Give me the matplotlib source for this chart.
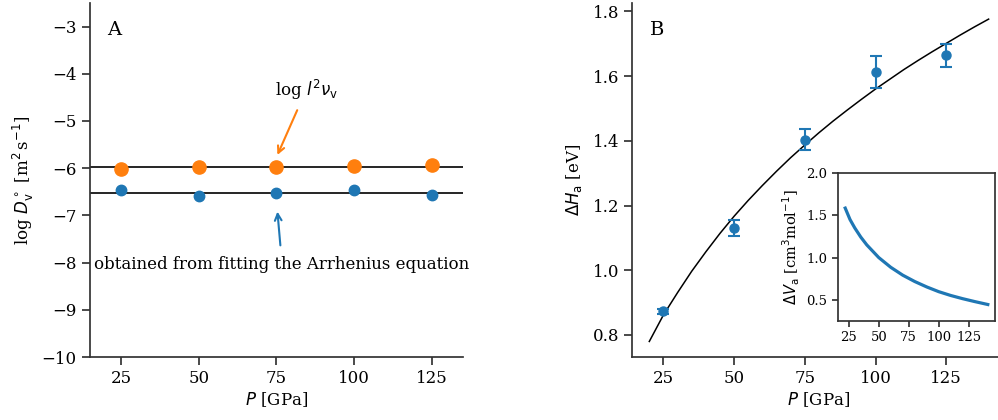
import matplotlib
matplotlib.use("Agg")
import matplotlib.pyplot as plt

# ---------------- data ----------------
pressure = [25, 50, 75, 100, 125]

# Panel A
log_l2nu = [-6.01, -5.98, -5.97, -5.95, -5.94]
log_D0 = [-6.47, -6.60, -6.525, -6.455, -6.575]
log_D0_err = [0.03, 0.03, 0.04, 0.06, 0.03]
hline_l2nu = -5.966
hline_D0 = -6.518

# Panel B
dH = [0.873, 1.131, 1.404, 1.612, 1.664]
dH_err = [0.008, 0.025, 0.033, 0.049, 0.035]
fit_P = [20, 25, 30, 35, 40, 45, 50, 55, 60, 65, 70, 75, 80, 85, 90, 95,
         100, 105, 110, 115, 120, 125, 130, 135, 140]
fit_dH = [0.780, 0.862, 0.931, 0.997, 1.057, 1.114, 1.167, 1.216, 1.262, 1.306,
          1.348, 1.387, 1.425, 1.461, 1.495, 1.528, 1.560, 1.590, 1.620, 1.648,
          1.675, 1.701, 1.727, 1.752, 1.776]

# Inset
inset_P = [22, 26, 30, 35, 40, 50, 60, 70, 80, 90, 100, 110, 120, 130, 141]
inset_dV = [1.585, 1.45, 1.35, 1.242, 1.15, 1.00, 0.885, 0.792, 0.717, 0.653,
            0.597, 0.552, 0.514, 0.480, 0.445]

xticks = [25, 50, 75, 100, 125]

# ---------------- style ----------------
plt.rcParams.update({
    "font.family": "DejaVu Serif",
    "mathtext.fontset": "dejavusans",
    "font.size": 12,
    "axes.edgecolor": "0.2",
    "axes.linewidth": 1.25,
    "xtick.major.size": 6,
    "ytick.major.size": 6,
    "xtick.major.width": 1.25,
    "ytick.major.width": 1.25,
    "xtick.color": "0.2",
    "ytick.color": "0.2",
    "xtick.labelcolor": "black",
    "ytick.labelcolor": "black",
})

C0 = "#1f77b4"
C1 = "#ff7f0e"

fig = plt.figure(figsize=(9.98, 4.2), dpi=100)

# ---------------- Panel A ----------------
axA = fig.add_axes([0.0902, 0.15, 0.3737, 0.843])
axA.axhline(hline_l2nu, color="black", lw=1.2, zorder=1)
axA.axhline(hline_D0, color="black", lw=1.2, zorder=1)
axA.plot(pressure, log_l2nu, "o", color=C1, ms=9.5, zorder=3)
axA.errorbar(pressure, log_D0, yerr=log_D0_err, fmt="o", color=C0, ms=7.5,
             capsize=2, elinewidth=1.5, zorder=3)
axA.set_xlim(15, 135)
axA.set_ylim(-10, -2.5)
axA.set_xticks(xticks)
axA.set_yticks(range(-10, -2))
axA.spines["top"].set_visible(False)
axA.spines["right"].set_visible(False)
axA.set_xlabel(r"$P$ [GPa]", labelpad=2)
axA.set_ylabel(r"log $D_\mathrm{v}^\circ$ [m$^2\,$s$^{-1}$]", labelpad=4)
axA.text(0.047, 0.95, "A", transform=axA.transAxes, fontsize=14, va="top")

axA.annotate(r"log $l^2\nu_\mathrm{v}$", xy=(75.3, -5.72), xytext=(84.5, -4.35),
             ha="center", va="center", fontsize=12,
             arrowprops=dict(arrowstyle="->", color=C1, lw=1.5,
                             shrinkA=4, shrinkB=0))
axA.annotate("obtained from fitting the Arrhenius equation", xy=(75.3, -6.92),
             xytext=(76.8, -8.05), ha="center", va="center", fontsize=12,
             arrowprops=dict(arrowstyle="->", color=C0, lw=1.5,
                             shrinkA=6, shrinkB=0),
             annotation_clip=False)

# ---------------- Panel B ----------------
axB = fig.add_axes([0.6336, 0.15, 0.374, 0.843])
axB.plot(fit_P, fit_dH, color="black", lw=1.1, zorder=2)
axB.errorbar(pressure, dH, yerr=dH_err, fmt="o", color=C0, ms=6.5,
             capsize=4, elinewidth=1.5, capthick=1.5, zorder=3)
axB.set_xlim(14, 146)
axB.set_ylim(0.732, 1.826)
axB.set_xticks(xticks)
axB.set_yticks([0.8, 1.0, 1.2, 1.4, 1.6, 1.8])
axB.set_yticklabels(["0.8", "1.0", "1.2", "1.4", "1.6", "1.8"])
axB.spines["top"].set_visible(False)
axB.spines["right"].set_visible(False)
axB.set_xlabel(r"$P$ [GPa]", labelpad=2)
axB.set_ylabel(r"$\Delta H_\mathrm{a}$ [eV]", labelpad=6)
axB.text(0.047, 0.95, "B", transform=axB.transAxes, fontsize=14, va="top")

# ---------------- Inset ----------------
axI = fig.add_axes([0.8397, 0.2357, 0.1573, 0.3524])
axI.plot(inset_P, inset_dV, color=C0, lw=2.3)
axI.set_xlim(16, 147)
axI.set_ylim(0.25, 2.0)
axI.set_xticks(xticks)
axI.set_yticks([0.5, 1.0, 1.5, 2.0])
axI.tick_params(labelsize=9.5, length=4)
axI.set_ylabel(r"$\Delta V_\mathrm{a}$ [cm$^3$mol$^{-1}$]", fontsize=10.5,
               labelpad=3)

fig.savefig("out.png", dpi=100)
